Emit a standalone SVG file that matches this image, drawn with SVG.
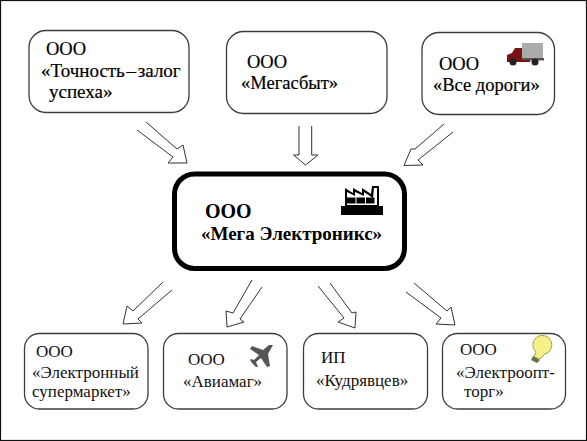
<svg xmlns="http://www.w3.org/2000/svg" width="587" height="441" viewBox="0 0 587 441">
<style>
.n{fill:#fff;stroke:#3c3c3c;stroke-width:1.3}
.a{fill:#fff;stroke:#333;stroke-width:1}
.t{font-size:18.5px;fill:#000;stroke:#000;stroke-width:.2}
.u{font-size:19px;fill:#000;stroke:#000;stroke-width:.2}
.b{font-size:17px;fill:#111}
.c{font-weight:bold;fill:#000}
</style>
<rect x="0.5" y="0.5" width="586" height="440" fill="#fff" stroke="#111" stroke-width="1.2"/>
<g id="connectors">
<polyline class="a" points="146,122 177,149 183,145 187,163 168,163 173,157 137,130"/>
<polyline class="a" points="299,126 299,155 293.5,155 305.5,165 318,155 311.7,155 311.7,126"/>
<polyline class="a" points="444,124 415,149 411,149 404,165.5 423,165 418,160 453,132"/>
<polyline class="a" points="163,282 133,311 127,306 123,324 142,323 138,319 172,290"/>
<polyline class="a" points="252,280 233,313 226,311 227,327 244,322 240,319 262,287"/>
<polyline class="a" points="318,286 344,318 338,322 355,328 356,312 352,313 330,283"/>
<polyline class="a" points="414,283 447,311 451,307 455,325 436,324 441,318 406,292"/>
</g>
<g id="node-tochnost">
<rect class="n" x="29" y="30.500" width="160" height="82" rx="17"/>
<text font-family="Liberation Serif" class="t" x="46" y="55">ООО</text>
<text font-family="Liberation Serif" class="u" x="41" y="77" word-spacing="-3">«Точность – залог</text>
<text font-family="Liberation Serif" class="u" x="49" y="98">успеха»</text>
</g>
<g id="node-megasbyt">
<rect class="n" x="226.500" y="31.500" width="160.500" height="82" rx="17"/>
<text font-family="Liberation Serif" class="t" x="247" y="68">ООО</text>
<text font-family="Liberation Serif" class="t" x="241" y="89">«Мегасбыт»</text>
</g>
<g id="node-vse-dorogi">
<rect class="n" x="422" y="32.500" width="132.500" height="82" rx="17"/>
<text font-family="Liberation Serif" class="t" x="439" y="70">ООО</text>
<text font-family="Liberation Serif" class="t" x="433" y="91">«Все дороги»</text>
<g id="truck">
<rect x="522" y="43" width="21" height="15" fill="#ababab"/>
<rect x="521" y="58" width="23" height="2.500" fill="#555"/>
<path d="M507,62 L507,55 L512,53 L515,48 L522,48 L522,60 L530,60 L530,62 Z" fill="#7a1414"/>
<circle cx="513" cy="62" r="3.500" fill="#222"/>
<circle cx="535" cy="62" r="3.500" fill="#222"/>
</g>
</g>
<g id="node-mega">
<rect x="174.500" y="174" width="230" height="94.500" rx="20" fill="#fff" stroke="#000" stroke-width="5"/>
<text font-family="Liberation Serif" class="c" x="205" y="218" font-size="20">ООО</text>
<text font-family="Liberation Serif" class="c" x="201" y="240" font-size="19">«Мега Электроникс»</text>
<g id="factory">
<path d="M341,215 L341,206 L345,206 L345,188 L353,193 L353,188 L362,193 L362,188 L371,194 L372,186 L379,186 L379,206 L383,206 L383,215 Z" fill="#000"/>
<path d="M347,205 L347,192 L355,196 L355,192 L364,196 L364,192 L373,198 L374,188 L377,188 L377,205 Z" fill="#fff"/>
<rect x="347" y="197.500" width="8.500" height="6" fill="#000"/>
<rect x="356.500" y="197.500" width="8.500" height="6" fill="#000"/>
<rect x="366" y="197.500" width="8.500" height="6" fill="#000"/>
</g>
</g>
<g id="node-elektronny">
<rect class="n" x="24.500" y="333.500" width="123.500" height="75.500" rx="15"/>
<text font-family="Liberation Serif" class="b" x="36" y="357">ООО</text>
<text font-family="Liberation Serif" class="b" x="32" y="378">«Электронный</text>
<text font-family="Liberation Serif" class="b" x="32" y="397">супермаркет»</text>
</g>
<g id="node-aviamag">
<rect class="n" x="163.500" y="333.500" width="123.500" height="75.500" rx="15"/>
<text font-family="Liberation Serif" class="b" x="188" y="365">ООО</text>
<text font-family="Liberation Serif" class="b" x="183" y="387">«Авиамаг»</text>
<path id="plane" d="M273,345 L268,354 L270,366 L267,367 L261,358 L256,362 L258,367 L256,367 L252,363 L250,360 L251,359 L254,360 L259,355 L250,349 L252,346 L263,350 L269,345 Z" fill="#555"/>
</g>
<g id="node-kudryavtsev">
<rect class="n" x="303.500" y="333.500" width="124" height="75.500" rx="15"/>
<text font-family="Liberation Serif" class="b" x="321" y="363">ИП</text>
<text font-family="Liberation Serif" class="b" x="316" y="386">«Кудрявцев»</text>
</g>
<g id="node-elektroopt">
<rect class="n" x="442.500" y="333.500" width="123" height="75.500" rx="15"/>
<text font-family="Liberation Serif" class="b" x="460" y="355">ООО</text>
<text font-family="Liberation Serif" class="b" x="456" y="378">«Электроопт-</text>
<text font-family="Liberation Serif" class="b" x="464" y="397">торг»</text>
<g id="bulb">
<path d="M536,352 A9.500,9.500 0 1 1 545,354 L540,359 L534,357 Z" fill="#f5f08a" stroke="#a8a040" stroke-width="1"/>
<path d="M533,356 L540,360 L537,363 L531,360 Z" fill="#6b6f4a"/>
</g>
</g>
</svg>
